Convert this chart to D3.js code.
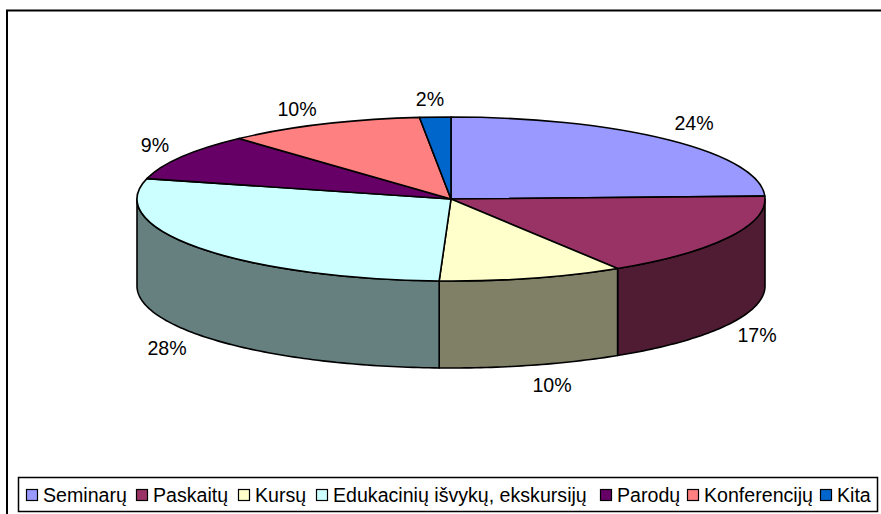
<!DOCTYPE html>
<html><head><meta charset="utf-8">
<script src="https://cdn.jsdelivr.net/npm/d3@7"></script>
<style>html,body{margin:0;background:#fff}svg{display:block}text{font-family:"Liberation Sans",Arial,sans-serif;font-size:19.6px;fill:#000}</style>
</head><body><svg width="881" height="514"></svg>
<script>
const categories=["Seminarų","Paskaitų","Kursų","Edukacinių išvykų, ekskursijų","Parodų","Konferencijų","Kita"];
const values=[24.45,16.65,9.5,28.4,9.2,10.2,1.6];
const colors=["#9999FF","#993366","#FFFFCC","#CCFFFF","#660066","#FF8080","#0066CC"];
const wallColors=["#4D4D80","#4F1C33","#808066","#668080","#330033","#804040","#003366"];
const labelAnchors=[[694,130],[757,342],[552,392],[167,355],[155,152],[297,116],[430,106]];
const legendSwatchX=[26,136,238,316,600,687,820];

const cx=451,cy=199,rx=314,ry=82,depth=87;
const svg=d3.select("svg");
// frame
svg.append("path").attr("d","M7,514V10.5H881").attr("fill","none").attr("stroke","#000").attr("stroke-width",2);

const pie=d3.pie().sort(null).startAngle(0).endAngle(2*Math.PI);
const slices=pie(values);
const X=d3.scaleLinear().domain([-1,1]).range([cx-rx,cx+rx]);
const Y=d3.scaleLinear().domain([-1,1]).range([cy-ry,cy+ry]);

// front walls: the visible part of the rim lies between a quarter and three quarters of a turn
const wall=d3.area().x(a=>X(Math.sin(a))).y0(a=>Y(-Math.cos(a))).y1(a=>Y(-Math.cos(a))+depth);
const wallG=svg.append("g");
slices.forEach((s,i)=>{
  const a0=Math.max(s.startAngle,Math.PI/2),a1=Math.min(s.endAngle,3*Math.PI/2);
  if(a1<=a0)return;
  const n=Math.ceil((a1-a0)*60);
  const pts=d3.range(n+1).map(k=>a0+(a1-a0)*k/n);
  wallG.append("path").attr("d",wall(pts)).attr("fill",wallColors[i]).attr("stroke","#000").attr("stroke-width",1.6).attr("stroke-linejoin","round");
});

// top face
const arc=d3.arc().innerRadius(0).outerRadius(rx);
svg.append("g").attr("transform",`translate(${cx},${cy}) scale(1,${ry/rx})`)
  .selectAll("path").data(slices).join("path")
  .attr("d",arc).attr("fill",(d,i)=>colors[i])
  .attr("stroke","#000").attr("stroke-width",1.6).attr("vector-effect","non-scaling-stroke").attr("stroke-linejoin","round");

// labels
svg.append("g").selectAll("text").data(slices).join("text")
  .attr("x",(d,i)=>labelAnchors[i][0]).attr("y",(d,i)=>labelAnchors[i][1])
  .attr("text-anchor","middle").text(d=>Math.round(d.value)+"%");

// legend
svg.append("rect").attr("x",18.5).attr("y",477.5).attr("width",859).attr("height",34)
  .attr("fill","#fff").attr("stroke","#000").attr("stroke-width",1.5);
const lg=svg.append("g").selectAll("g").data(categories).join("g")
  .attr("transform",(d,i)=>`translate(${legendSwatchX[i]},0)`);
lg.append("rect").attr("x",0.5).attr("y",489.5).attr("width",11).attr("height",11)
  .attr("fill",(d,i)=>colors[i]).attr("stroke","#000").attr("stroke-width",1.2);
lg.append("text").attr("x",17).attr("y",502).text(d=>d);
</script></body></html>
